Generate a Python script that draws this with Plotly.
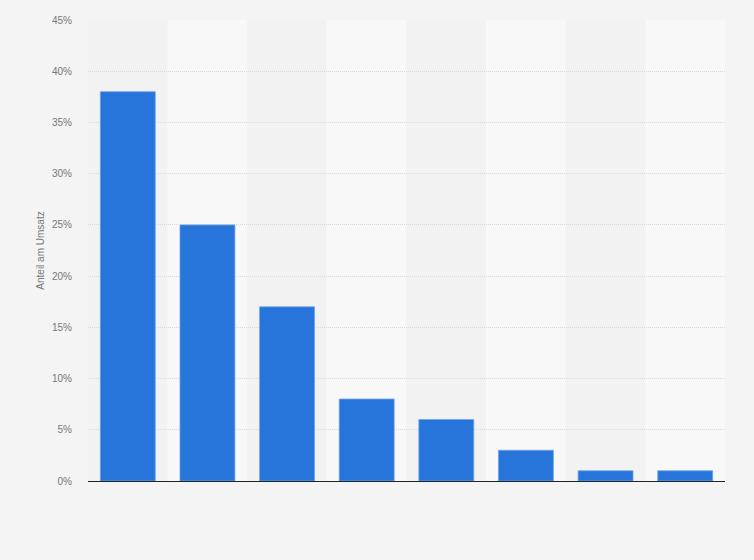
import plotly.graph_objects as go

# share of revenue per category (labels not shown in the source chart)
positions = [0, 1, 2, 3, 4, 5, 6, 7]
shares = [38, 25, 17, 8, 6, 3, 1, 1]
tick_vals = [0, 5, 10, 15, 20, 25, 30, 35, 40, 45]
tick_text = [f"{v}%" for v in tick_vals]

fig = go.Figure()
fig.add_trace(go.Bar(
    x=positions,
    y=shares,
    width=0.69,
    marker=dict(color="#2775db", line=dict(color="#6fa3ea", width=0.8)),
    hovertemplate="%{y}%<extra></extra>",
))

# alternating column bands
for i in positions:
    fig.add_shape(
        type="rect", xref="x", yref="y",
        x0=i - 0.5, x1=i + 0.5, y0=0, y1=45,
        fillcolor="#f8f8f8" if i % 2 else "#f2f2f2",
        line_width=0, layer="below",
    )

fig.update_layout(
    width=754, height=560,
    paper_bgcolor="#f4f4f4",
    plot_bgcolor="#f4f4f4",
    margin=dict(l=88, r=29, t=20, b=79),
    showlegend=False,
    font=dict(family="Arial, Liberation Sans, sans-serif", size=10, color="#666666"),
    bargap=0.31,
)
fig.update_xaxes(
    range=[-0.5, 7.5], showticklabels=False, showgrid=False,
    zeroline=False, showline=False, fixedrange=True,
)
fig.update_yaxes(
    range=[0, 45], tickvals=tick_vals, ticktext=tick_text,
    showgrid=True, gridcolor="#dadada", griddash="1px,1px", gridwidth=1,
    zeroline=True, zerolinecolor="#222222", zerolinewidth=1.2,
    title=dict(text="Anteil am Umsatz", font=dict(size=10, color="#777777"), standoff=5),
    ticks="", ticklen=0, ticklabelstandoff=15,
    tickfont=dict(size=10, color="#777777"), fixedrange=True,
)

# drop the page's default body margin so the figure sits at the corner
fig.write_html(
    "out.html",
    config={"displayModeBar": False},
    post_script="document.body.style.margin='0';document.body.style.background='#f4f4f4';",
)
